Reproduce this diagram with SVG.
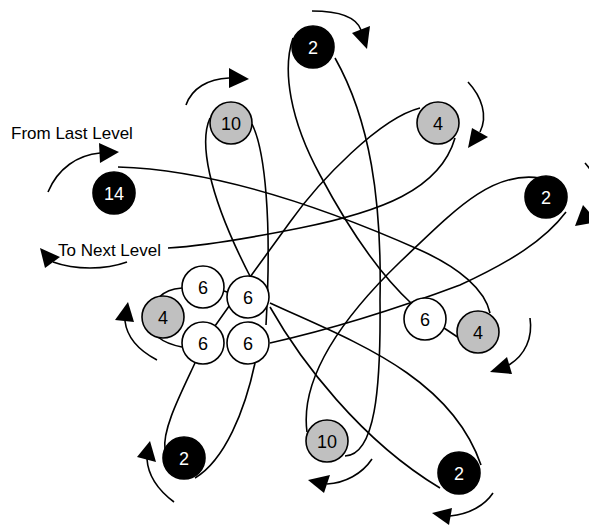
<svg xmlns="http://www.w3.org/2000/svg" width="589" height="526" viewBox="0 0 589 526">
<style>
.c{fill:none;stroke:#000;stroke-width:1.6}
.a{fill:none;stroke:#000;stroke-width:1.6}
.h{fill:#000;stroke:none}
.n circle{stroke:#000;stroke-width:1.6}
.w{fill:#fff}
.g{fill:#c0c0c0}
.b{fill:#000}
.t{font-family:"Liberation Sans",Arial,sans-serif;font-size:18px;text-anchor:middle}
.tw{fill:#fff}
.tk{fill:#000}
.lbl{font-family:"Liberation Sans",Arial,sans-serif;font-size:17px;fill:#000}
</style>
<rect width="589" height="526" fill="#fff"/>
<g id="connectors">
<path class="c" d="M210,118 C200,140 205,190 252,280"/>
<path class="c" d="M252,124 C265,150 272,220 266,325"/>
<path class="c" d="M293,38 C282,70 290,120 320,175 C345,222 375,270 412,304"/>
<path class="c" d="M335,58 C370,120 382,200 380,300 C381,390 375,455 345,456"/>
<path class="c" d="M307,432 C300,380 340,320 400,262 C450,215 490,170 540,178"/>
<path class="c" d="M270,343 C350,325 420,300 460,285 C510,262 545,240 566,212"/>
<path class="c" d="M420,108 C380,118 320,180 290,222 C270,250 240,290 215,326"/>
<path class="c" d="M455,138 C440,190 380,212 300,228 C240,240 200,246 168,248"/>
<path class="c" d="M118,167 C220,170 330,210 420,250 C460,268 485,290 490,313"/>
<path class="c" d="M444,328 L459,338"/>
<path class="c" d="M270,303 C350,340 450,375 481,465"/>
<path class="c" d="M270,307 C300,360 360,440 440,488"/>
<path class="c" d="M255,363 C245,410 225,460 195,478"/>
<path class="c" d="M195,363 C180,395 162,430 165,450"/>
<path class="c" d="M182,288 C172,289 165,291 158,298"/>
<path class="c" d="M182,347 C172,345 165,343 158,337"/>
<path class="c" d="M224,291 L230,293"/>
</g>
<g id="arrows">
<path class="a" d="M186,105 C192,88 208,79 229,78"/>
<polygon class="h" points="229,68 249,79 229,88"/>
<path class="a" d="M48,192 C58,168 78,155 100,153"/>
<polygon class="h" points="99,143 119,152 100,163"/>
<path class="a" d="M312,11 C338,11 356,16 361,30"/>
<polygon class="h" points="352,33 370,26 367,49"/>
<path class="a" d="M468,82 C482,97 488,116 480,132"/>
<polygon class="h" points="472,128 488,137 468,148"/>
<path class="a" d="M585,163 C600,180 605,200 595,215"/>
<polygon class="h" points="575,226 583,205 598,222"/>
<path class="a" d="M530,318 C533,338 525,355 509,365"/>
<polygon class="h" points="490,372 512,374 507,357"/>
<path class="a" d="M493,493 C485,505 470,514 450,516"/>
<polygon class="h" points="432,513 452,508 449,525"/>
<path class="a" d="M372,459 C362,474 345,483 327,484"/>
<polygon class="h" points="308,480 330,475 324,493"/>
<path class="a" d="M174,502 C158,490 148,475 147,459"/>
<polygon class="h" points="137,457 150,441 156,462"/>
<path class="a" d="M157,360 C138,350 127,338 125,321"/>
<polygon class="h" points="115,320 128,302 134,322"/>
<path class="a" d="M127,262 C105,270 75,270 53,262"/>
<polygon class="h" points="40,248 60,257 45,268"/>
</g>
<g id="labels">
<text class="lbl" x="11" y="139">From Last Level</text>
<text class="lbl" x="58" y="256">To Next Level</text>
</g>
<g id="n14" class="n"><circle class="b" cx="114" cy="193" r="21"/><text class="t tw" x="114" y="199.5">14</text></g>
<g id="n10a" class="n"><circle class="g" cx="231" cy="123" r="21"/><text class="t tk" x="231" y="129.5">10</text></g>
<g id="n2top" class="n"><circle class="b" cx="313" cy="47" r="21"/><text class="t tw" x="313" y="53.5">2</text></g>
<g id="n4tr" class="n"><circle class="g" cx="438" cy="123" r="21"/><text class="t tk" x="438" y="129.5">4</text></g>
<g id="n2right" class="n"><circle class="b" cx="546" cy="197" r="21"/><text class="t tw" x="546" y="203.5">2</text></g>
<g id="n6r" class="n"><circle class="w" cx="425" cy="319" r="21"/><text class="t tk" x="425" y="325.5">6</text></g>
<g id="n4r" class="n"><circle class="g" cx="478" cy="332" r="21"/><text class="t tk" x="478" y="338.5">4</text></g>
<g id="n10b" class="n"><circle class="g" cx="327" cy="441" r="21"/><text class="t tk" x="327" y="447.5">10</text></g>
<g id="n2br" class="n"><circle class="b" cx="459" cy="473" r="21"/><text class="t tw" x="459" y="479.5">2</text></g>
<g id="n2bl" class="n"><circle class="b" cx="184" cy="458" r="21"/><text class="t tw" x="184" y="464.5">2</text></g>
<g id="n4l" class="n"><circle class="g" cx="163" cy="317" r="21"/><text class="t tk" x="163" y="323.5">4</text></g>
<g id="n6a" class="n"><circle class="w" cx="203" cy="287" r="21"/><text class="t tk" x="203" y="293.5">6</text></g>
<g id="n6b" class="n"><circle class="w" cx="248" cy="297" r="21"/><text class="t tk" x="248" y="303.5">6</text></g>
<g id="n6c" class="n"><circle class="w" cx="203" cy="343" r="21"/><text class="t tk" x="203" y="349.5">6</text></g>
<g id="n6d" class="n"><circle class="w" cx="248" cy="343" r="21"/><text class="t tk" x="248" y="349.5">6</text></g>
</svg>
